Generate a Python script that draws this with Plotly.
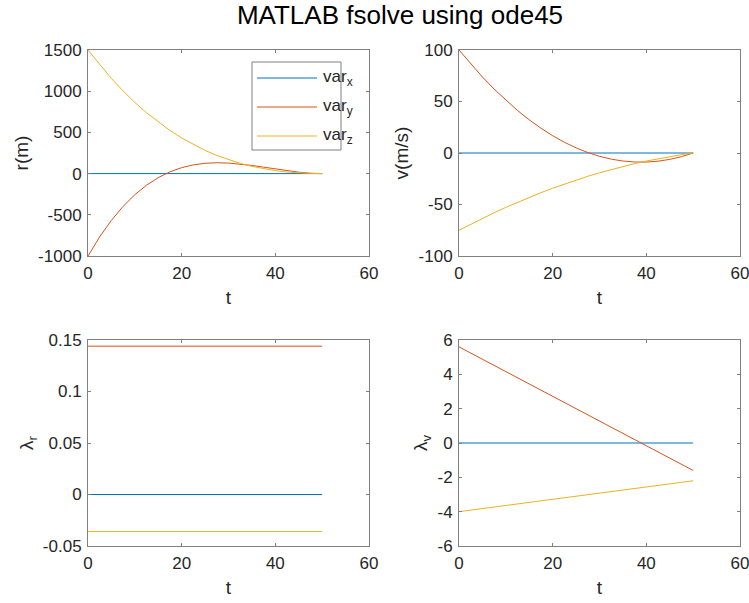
import plotly.graph_objects as go

# Time samples (s)
t = [0, 2.5, 5, 7.5, 10, 12.5, 15, 17.5, 20, 22.5, 25,
     27.5, 30, 32.5, 35, 37.5, 40, 42.5, 45, 47.5, 50]

# Position components r (m)
r_x = [0] * 21
r_y = [-1000, -767.1, -567.0, -397.4, -256.0, -140.6, -49.0, 21.1, 72.0, 105.9, 125.0,
       131.6, 128.0, 116.4, 99.0, 78.1, 56.0, 34.9, 17.0, 4.6, 0]
r_z = [1500, 1319.9, 1154.3, 1002.5, 864.0, 738.3, 624.8, 522.8, 432.0, 351.7, 281.3,
       220.2, 168.0, 124.0, 87.8, 58.6, 36.0, 19.4, 8.3, 2.0, 0]

# Velocity components v (m/s)
v_x = [0] * 21
v_y = [100, 86.45, 73.8, 62.05, 51.2, 41.25, 32.2, 24.05, 16.8, 10.45, 5.0,
       0.45, -3.2, -5.95, -7.8, -8.75, -8.8, -7.95, -6.2, -3.55, 0]
v_z = [-75, -69.11, -63.45, -58.01, -52.8, -47.81, -43.05, -38.51, -34.2, -30.11, -26.25,
       -22.61, -19.2, -16.01, -13.05, -10.31, -7.8, -5.51, -3.45, -1.61, 0]

# Costates
lam_r_x = [0] * 21
lam_r_y = [0.144] * 21
lam_r_z = [-0.036] * 21
lam_v_x = [0] * 21
lam_v_y = [5.6, 5.24, 4.88, 4.52, 4.16, 3.8, 3.44, 3.08, 2.72, 2.36, 2.0,
           1.64, 1.28, 0.92, 0.56, 0.2, -0.16, -0.52, -0.88, -1.24, -1.6]
lam_v_z = [-4.0, -3.91, -3.82, -3.73, -3.64, -3.55, -3.46, -3.37, -3.28, -3.19, -3.1,
           -3.01, -2.92, -2.83, -2.74, -2.65, -2.56, -2.47, -2.38, -2.29, -2.2]

# Tick values and labels (plain hyphen minus signs)
t_ticks = [0, 20, 40, 60]
r_ticks = [-1000, -500, 0, 500, 1000, 1500]
r_labels = ["-1000", "-500", "0", "500", "1000", "1500"]
v_ticks = [-100, -50, 0, 50, 100]
v_labels = ["-100", "-50", "0", "50", "100"]
lr_ticks = [-0.05, 0, 0.05, 0.1, 0.15]
lr_labels = ["-0.05", "0", "0.05", "0.1", "0.15"]
lv_ticks = [-6, -4, -2, 0, 2, 4, 6]
lv_labels = ["-6", "-4", "-2", "0", "2", "4", "6"]

legend_names = ["var<sub>x</sub>", "var<sub>y</sub>", "var<sub>z</sub>"]
colors = ["#0072BD", "#D95319", "#EDB120"]

W, H = 749, 603
FONT = "Liberation Sans, Arial, sans-serif"
AX_COLOR = "#808080"
TXT = "#262626"

panels = [
    ("x", "y", (r_x, r_y, r_z)),
    ("x2", "y2", (v_x, v_y, v_z)),
    ("x3", "y3", (lam_r_x, lam_r_y, lam_r_z)),
    ("x4", "y4", (lam_v_x, lam_v_y, lam_v_z)),
]

fig = go.Figure()
for xa, ya, series in panels:
    for s, c, name in zip(series, colors, legend_names):
        fig.add_trace(go.Scatter(x=t, y=s, mode="lines", xaxis=xa, yaxis=ya,
                                 line=dict(color=c, width=1), name=name,
                                 showlegend=False))


def px_x(p):
    return p / W


def px_y(p):
    return 1 - p / H


def axis(domain, rng, vals, labels, title, anchor, is_x):
    return dict(domain=domain, range=rng, anchor=anchor, automargin=False,
                tickmode="array", tickvals=vals, ticktext=labels,
                showline=True, linecolor=AX_COLOR, linewidth=1, mirror="ticks",
                ticks="inside", ticklen=3, tickcolor=AX_COLOR, tickwidth=1,
                ticklabelstandoff=2, ticklabeloverflow="allow",
                showgrid=False, zeroline=False,
                tickfont=dict(family=FONT, size=17, color=TXT),
                title=dict(text=title, font=dict(family=FONT, size=19, color=TXT),
                           standoff=8 if is_x else 4))


xl = [px_x(88), px_x(369)]
xr = [px_x(459), px_x(740)]
yt = [px_y(256), px_y(50)]
yb = [px_y(546), px_y(340)]
t_labels = [str(v) for v in t_ticks]

fig.update_layout(
    width=W, height=H,
    template="none",
    margin=dict(l=0, r=0, t=0, b=0, autoexpand=False),
    paper_bgcolor="white", plot_bgcolor="white",
    showlegend=False,
    title=dict(text="MATLAB fsolve using ode45", x=400 / W, xanchor="center",
               y=px_y(15), yanchor="middle", automargin=False,
               font=dict(family=FONT, size=26, color="#000000")),
    xaxis=axis(xl, [0, 60], t_ticks, t_labels, "t", "y", True),
    yaxis=axis(yt, [-1000, 1500], r_ticks, r_labels, "r(m)", "x", False),
    xaxis2=axis(xr, [0, 60], t_ticks, t_labels, "t", "y2", True),
    yaxis2=axis(yt, [-100, 100], v_ticks, v_labels, "v(m/s)", "x2", False),
    xaxis3=axis(xl, [0, 60], t_ticks, t_labels, "t", "y3", True),
    yaxis3=axis(yb, [-0.05, 0.15], lr_ticks, lr_labels, "λ<sub>r</sub>", "x3", False),
    xaxis4=axis(xr, [0, 60], t_ticks, t_labels, "t", "y4", True),
    yaxis4=axis(yb, [-6, 6], lv_ticks, lv_labels, "λ<sub>v</sub>", "x4", False),
)

# Legend box inside the position panel
box_l, box_t, box_r, box_b = 252, 62, 341, 150
fig.add_shape(type="rect", xref="paper", yref="paper",
              x0=px_x(box_l), x1=px_x(box_r), y0=px_y(box_b), y1=px_y(box_t),
              line=dict(color=AX_COLOR, width=1), fillcolor="white", layer="above")
row_y = [78, 107, 136]
for yy, c, name in zip(row_y, colors, legend_names):
    fig.add_shape(type="line", xref="paper", yref="paper",
                  x0=px_x(257), x1=px_x(317), y0=px_y(yy), y1=px_y(yy),
                  line=dict(color=c, width=1), layer="above")
    fig.add_annotation(text=name, xref="paper", yref="paper",
                       x=px_x(321), y=px_y(yy), xanchor="left", yanchor="middle",
                       showarrow=False, font=dict(family=FONT, size=17, color=TXT))

fig.write_html("out.html")
